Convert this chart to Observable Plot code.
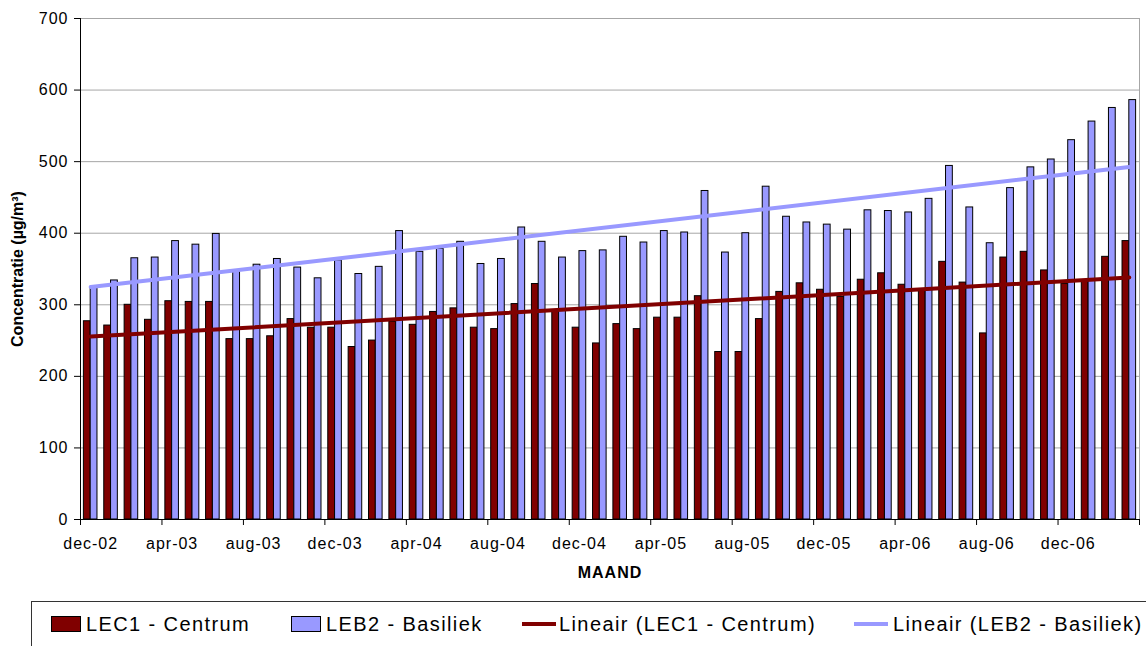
<!DOCTYPE html>
<html>
<head>
<meta charset="utf-8">
<script src="https://cdn.jsdelivr.net/npm/d3@7"></script>
<script src="https://cdn.jsdelivr.net/npm/@observablehq/plot@0.6"></script>
<style>
  html, body { margin: 0; padding: 0; background: #fff; overflow: hidden; }
  #wrap { position: relative; width: 1146px; height: 646px; overflow: hidden; }
  #chart { position: absolute; left: 0; top: 0; }
  #legend { position: absolute; left: 31px; top: 601px; width: 1140px; height: 70px; border: 1px solid #333; box-sizing: border-box; }
  .lg { position: absolute; font-family: 'Liberation Sans', Arial, sans-serif; font-size: 20px; letter-spacing: 1.4px; color: #000; white-space: nowrap; line-height: 20px; }
  .sw { position: absolute; box-sizing: border-box; }
</style>
</head>
<body>
<div id="wrap">
  <div id="chart"></div>
  <div id="legend"></div>
</div>
<script>
// Months (category axis)
const months = [
  "dec-02","jan-03","feb-03","mrt-03","apr-03","mei-03","jun-03","jul-03","aug-03","sep-03","okt-03","nov-03",
  "dec-03","jan-04","feb-04","mrt-04","apr-04","mei-04","jun-04","jul-04","aug-04","sep-04","okt-04","nov-04",
  "dec-04","jan-05","feb-05","mrt-05","apr-05","mei-05","jun-05","jul-05","aug-05","sep-05","okt-05","nov-05",
  "dec-05","jan-06","feb-06","mrt-06","apr-06","mei-06","jun-06","jul-06","aug-06","sep-06","okt-06","nov-06",
  "dec-06","jan-07","feb-07","mrt-07"
];
// LEC1 - Centrum (µg/m³)
const lec1 = [
  277,271,300,279,305,304,304,252,252,256,280,268,
  268,241,250,276,272,290,295,268,266,301,329,292,
  268,246,273,266,282,282,312,234,234,280,318,330,
  321,311,335,344,328,320,360,331,260,366,374,348,
  329,333,367,389
];
// LEB2 - Basiliek (µg/m³)
const leb2 = [
  325,334,365,366,389,384,399,346,356,364,352,337,
  362,343,353,403,374,378,388,357,364,408,388,366,
  375,376,395,387,403,401,459,373,400,465,423,415,
  412,405,432,431,429,448,494,436,386,463,492,503,
  530,556,575,586
];
const yTicks = [0,100,200,300,400,500,600,700];
const xTickEvery = 4;

const seriesNames = ["LEC1 - Centrum", "LEB2 - Basiliek"];
const colors = ["#800000", "#9999ff"];

const data = months.map((m, i) => ({i, m, lec1: lec1[i], leb2: leb2[i]}));
const n = months.length;
const tickPos = d3.range(0, n + 1, xTickEvery);
const labelPos = d3.range(0, n, xTickEvery).map(i => i + 0.5);

const chart = Plot.plot({
  width: 1146,
  height: 600,
  marginLeft: 80,
  marginRight: 7,
  marginTop: 18,
  marginBottom: 81,
  style: {fontFamily: "'Liberation Sans', Arial, sans-serif", fontSize: "16px", color: "#000", background: "#fff", letterSpacing: "1px"},
  x: {domain: [0, n]},
  y: {domain: [0, 700]},
  marks: [
    Plot.ruleY(yTicks, {stroke: "#a6a6a6", strokeWidth: 1}),
    Plot.ruleX([n], {stroke: "#a6a6a6", strokeWidth: 1}),
    Plot.rect(data, {x1: d => d.i + 1/6, x2: d => d.i + 0.5, y1: d => 0, y2: d => d.lec1, fill: colors[0], stroke: "#000", strokeWidth: 1}),
    Plot.rect(data, {x1: d => d.i + 0.5, x2: d => d.i + 5/6, y1: d => 0, y2: d => d.leb2, fill: colors[1], stroke: "#000", strokeWidth: 1}),
    Plot.linearRegressionY(data, {x: d => d.i + 0.5, y: "lec1", stroke: colors[0], strokeWidth: 4, ci: 0}),
    Plot.linearRegressionY(data, {x: d => d.i + 0.5, y: "leb2", stroke: colors[1], strokeWidth: 4, ci: 0}),
    Plot.axisY(yTicks, {anchor: "left", tickSize: 6, tickPadding: 6, label: null, stroke: "#000"}),
    Plot.axisX(tickPos, {anchor: "bottom", tickSize: 6, tickFormat: () => "", label: null, stroke: "#000"}),
    Plot.axisX(labelPos, {anchor: "bottom", tickSize: 0, tickPadding: 18, tickFormat: d => months[Math.round(d - 0.5)], label: null}),
    Plot.ruleX([0], {stroke: "#000", strokeWidth: 1}),
    Plot.ruleY([0], {stroke: "#000", strokeWidth: 1}),
    Plot.text(["Concentratie (µg/m³)"], {frameAnchor: "left", dx: -63, rotate: -90, textAnchor: "middle", fontWeight: "bold", fontSize: 16, lineAnchor: "middle"}),
    Plot.text(["MAAND"], {frameAnchor: "bottom", dy: 47, lineAnchor: "top", fontWeight: "bold", fontSize: 16})
  ]
});
d3.select(chart).selectAll("text").filter(function() { return this.textContent.startsWith("Concentratie"); }).style("letter-spacing", "0px");
document.getElementById("chart").appendChild(chart);

// Legend (HTML, below the SVG)
const wrap = document.getElementById("wrap");
function add(el) { wrap.appendChild(el); return el; }
const legendItems = [
  {type: "box", color: colors[0], label: seriesNames[0], sx: 51, tx: 86},
  {type: "box", color: colors[1], label: seriesNames[1], sx: 291, tx: 326},
  {type: "line", color: colors[0], label: "Lineair (" + seriesNames[0] + ")", sx: 522, tx: 559},
  {type: "line", color: colors[1], label: "Lineair (" + seriesNames[1] + ")", sx: 854, tx: 893}
];
const cy = 624;
for (const it of legendItems) {
  const sw = document.createElement("div");
  sw.className = "sw";
  if (it.type === "box") {
    Object.assign(sw.style, {left: it.sx + "px", top: (cy - 8) + "px", width: "30px", height: "16px", background: it.color, border: "1px solid #000"});
  } else {
    Object.assign(sw.style, {left: it.sx + "px", top: (cy - 2) + "px", width: "34px", height: "4px", background: it.color});
  }
  add(sw);
  const t = document.createElement("div");
  t.className = "lg";
  t.textContent = it.label;
  Object.assign(t.style, {left: it.tx + "px", top: (cy - 10) + "px"});
  add(t);
}
</script>
</body>
</html>
